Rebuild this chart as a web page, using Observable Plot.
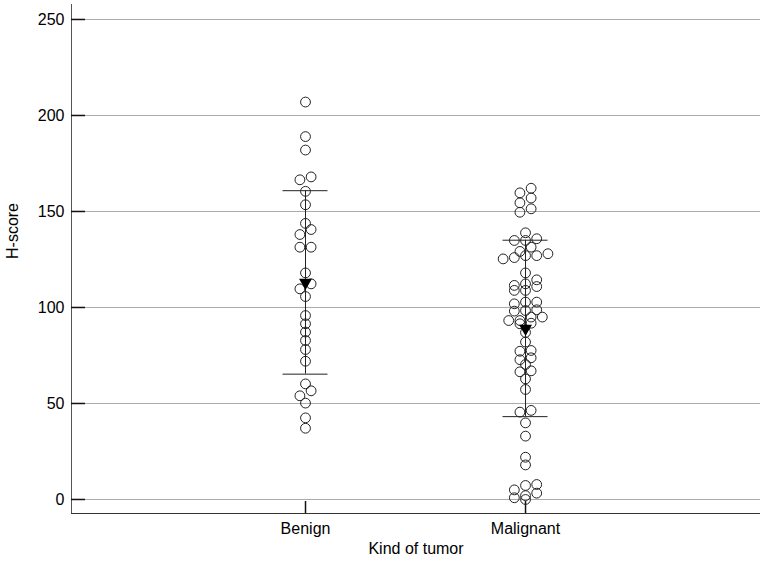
<!DOCTYPE html>
<html><head><meta charset="utf-8">
<script src="https://cdn.jsdelivr.net/npm/d3@7"></script>
<script src="https://cdn.jsdelivr.net/npm/@observablehq/plot@0.6"></script>
<style>body{margin:0;background:#fff;}</style>
</head><body><div id="chart"></div>
<script>
const categories = ["Benign", "Malignant"];
const benignValues = [207, 189, 182, 168, 166.5, 160.5, 153.5, 143.8, 140.6, 138, 131.4, 131.4,
  118, 112.3, 109.7, 105.7, 95.8, 91.5, 87.2, 82.8, 78.1, 72, 60.2, 56.6, 54, 50.2, 42.5, 37.1];
const malignantValues = [162.1, 159.7, 157, 154.5, 151.4, 149.6, 138.9, 135.8, 134.9, 134.9,
  131.4, 129.2, 128, 127, 127, 126, 125.3, 118, 114.4, 112.3, 111.5, 110.9, 108.9, 108.9,
  102.8, 102.8, 101.9, 98.8, 98.4, 98.1, 95, 95, 93.2, 93.2, 91.8, 91.5, 87, 82, 77.6, 77.2,
  73.8, 72.8, 70.3, 67, 66.5, 62.8, 57.3, 46.4, 45.5, 39.9, 33, 22, 18, 7.8, 7.3, 5, 3.3, 2, 0.9, 0];
const yTicks = [0, 50, 100, 150, 200, 250];
const xTitle = "Kind of tumor";
const yTitle = "H-score";

const W = 765, H = 561, mL = 71, mR = 5, mT = 4, mB = 48;
const xDomain = [-1.0636, 2.068];
const yDomain = [-7.3, 257.8];
const pxPerX = (W - mL - mR) / (xDomain[1] - xDomain[0]);

// symmetric row swarm layout (pixel offsets)
const rowThreshold = 3, step = 11.2;
function swarm(values, cat) {
  const sorted = values.slice().sort((a, b) => b - a);
  const rows = []; let cur = null;
  for (const v of sorted) {
    if (!cur || cur[0] - v > rowThreshold) { cur = [v]; rows.push(cur); } else cur.push(v);
  }
  const out = [];
  for (const row of rows) {
    const asc = row.slice().sort((a, b) => a - b);
    asc.forEach((v, i) => out.push({cat, v, off: (i - (asc.length - 1) / 2) * step}));
  }
  return out;
}
const series = [benignValues, malignantValues];
const points = series.flatMap((vals, i) => swarm(vals, i));
const stats = series.map((vals, i) => {
  const m = d3.mean(vals), s = d3.deviation(vals);
  return {cat: i, mean: m, lo: m - s, hi: m + s};
});
const capHalf = 22.5 / pxPerX;

const chart = Plot.plot({
  width: W, height: H,
  marginLeft: mL, marginRight: mR, marginTop: mT, marginBottom: mB,
  x: {type: "linear", domain: xDomain},
  y: {domain: yDomain},
  style: {fontFamily: "'Liberation Sans', Arial, sans-serif", fontSize: "16px", background: "white", color: "black"},
  marks: [
    Plot.ruleY(yTicks, {stroke: "#a9a9a9", strokeWidth: 1}),
    Plot.ruleX([xDomain[0]], {stroke: "#555", strokeWidth: 1}),
    Plot.ruleY([yDomain[0]], {stroke: "#333", strokeWidth: 1.2}),
    Plot.axisY(yTicks, {tickSize: 14, dx: 14, fill: "none", stroke: "#111", strokeWidth: 1.5, label: null}),
    Plot.axisY(yTicks, {tickSize: 0, tickPadding: 7, fill: "black", label: null, fontSize: 16}),
    Plot.axisX([0, 1], {tickSize: 12, dy: -12, fill: "none", stroke: "#111", strokeWidth: 1.5, label: null}),
    Plot.axisX([0, 1], {tickSize: 0, tickPadding: 9, tickFormat: i => categories[i], fill: "black", label: null, fontSize: 16}),
    Plot.text([xTitle], {frameAnchor: "bottom", dy: 40, fontSize: 16, fill: "black"}),
    Plot.text([yTitle], {frameAnchor: "left", dx: -59, rotate: -90, fontSize: 16, fill: "black"}),
    Plot.dot(points, {x: d => d.cat + d.off / pxPerX, y: "v", r: 4.9, stroke: "#222", fill: "none", strokeWidth: 1}),
    Plot.ruleX(stats, {x: "cat", y1: "lo", y2: "hi", stroke: "#222", strokeWidth: 1}),
    Plot.ruleY(stats, {y: "hi", x1: d => d.cat - capHalf, x2: d => d.cat + capHalf, stroke: "#222", strokeWidth: 1}),
    Plot.ruleY(stats, {y: "lo", x1: d => d.cat - capHalf, x2: d => d.cat + capHalf, stroke: "#222", strokeWidth: 1}),
    Plot.dot(stats, {x: "cat", y: "mean", symbol: "triangle", r: 4.8, fill: "black", stroke: "none", rotate: 180})
  ]
});
document.getElementById("chart").appendChild(chart);
</script>
</body></html>
